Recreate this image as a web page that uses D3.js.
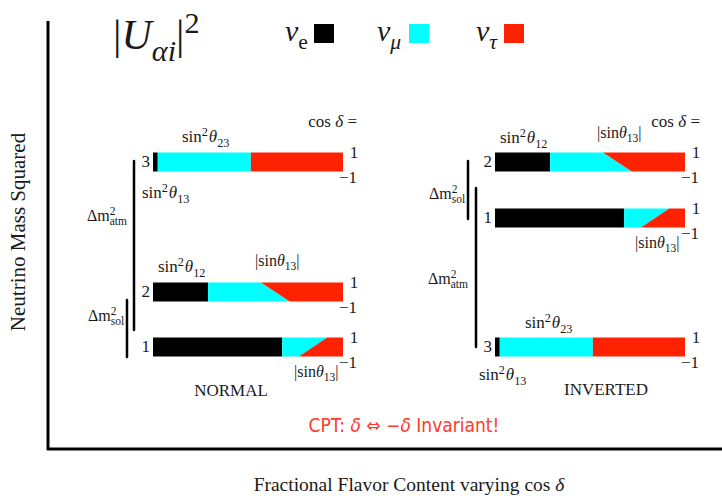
<!DOCTYPE html>
<html>
<head>
<meta charset="utf-8">
<title>Neutrino flavor content</title>
<style>
  body { margin: 0; background: #fff; }
  svg text, svg tspan { font-family: "Liberation Serif", "Times New Roman", serif; fill: #1a1a1a; }
</style>
</head>
<body>
<script src="https://cdn.jsdelivr.net/npm/d3@7"></script>
<script>
// mass states 1, 2, 3
var states = ["1", "2", "3"];
// |U_ei|^2 (black part)
var eShare = [0.68, 0.29, 0.025];
// e + mu share at cos delta = 1 and at cos delta = -1
var muEdgeTop = [0.917, 0.568, 0.515];
var muEdgeBottom = [0.768, 0.72, 0.515];
// schematic mass-squared level of each state
var levelNormal = [0, 0.297, 1];
var levelInverted = [0.697, 1, 0];
var orderings = ["NORMAL", "INVERTED"];
var flavors = ["e", "μ", "τ"];
var colors = ["#000000", "#00ffff", "#ff2200"];

var width = 722, height = 500;
var svg = d3.select("body").append("svg")
  .attr("width", width)
  .attr("height", height);

// draw text with sub / superscripts. parts: [text, kind, dx]
function mathText(x, y, parts, size, anchor, fill) {
  var t = svg.append("text")
    .attr("x", x).attr("y", y)
    .attr("font-size", size)
    .attr("text-anchor", anchor || "start");
  if (fill) t.style("fill", fill);
  var shift = 0;
  parts.forEach(function (p) {
    var kind = p[1] || "";
    var target = 0, fs = size;
    if (kind.indexOf("sup") >= 0) { target = -0.38 * size; fs = size * 0.72; }
    if (kind.indexOf("sub") >= 0) { target = 0.28 * size; fs = size * 0.72; }
    var s = t.append("tspan")
      .attr("dy", target - shift)
      .attr("font-size", fs)
      .text(p[0]);
    if (p[2]) s.attr("dx", p[2] * size);
    if (fill) s.style("fill", fill);
    if (kind.indexOf("i") === 0 || kind.indexOf("it") >= 0) s.attr("font-style", "italic");
    shift = target;
  });
  return t;
}

// frame
svg.append("line").attr("x1", 48).attr("x2", 48).attr("y1", 21).attr("y2", 450)
  .attr("stroke", "#000").attr("stroke-width", 3);
svg.append("line").attr("x1", 47).attr("x2", 722).attr("y1", 449).attr("y2", 449)
  .attr("stroke", "#000").attr("stroke-width", 3);

svg.append("text")
  .attr("transform", "translate(25,232) rotate(-90)")
  .attr("text-anchor", "middle")
  .attr("font-size", 21)
  .text("Neutrino Mass Squared");

mathText(409, 491, [["Fractional Flavor Content varying cos "], ["δ", "i"]], 19.5, "middle");

// title and legend
mathText(113, 49, [["|"], ["U", "i"], ["αi", "subit"], ["|"], ["2", "sup"]], 42);
var legX = [285, 377, 476];
flavors.forEach(function (f, i) {
  mathText(legX[i], 41, [["ν", "i"], [f, i === 0 ? "sub" : "subit"]], 30);
  svg.append("rect")
    .attr("x", [314, 409, 504][i]).attr("y", 24)
    .attr("width", 20).attr("height", 19)
    .attr("fill", colors[i]);
});

// scales
var y = d3.scaleLinear().domain([0, 1]).range([347, 162]);
var xN = d3.scaleLinear().domain([0, 1]).range([153, 343]);
var xI = d3.scaleLinear().domain([0, 1]).range([495, 685]);
var barH = 19;

function drawBars(x, levels) {
  states.forEach(function (s, i) {
    var top = y(levels[i]) - barH / 2, bot = top + barH;
    var line = d3.line();
    svg.append("path")
      .attr("d", line([[x(0), top], [x(eShare[i]), top], [x(eShare[i]), bot], [x(0), bot]]) + "Z")
      .attr("fill", colors[0]);
    svg.append("path")
      .attr("d", line([[x(eShare[i]), top], [x(muEdgeTop[i]), top], [x(muEdgeBottom[i]), bot], [x(eShare[i]), bot]]) + "Z")
      .attr("fill", colors[1]);
    svg.append("path")
      .attr("d", line([[x(muEdgeTop[i]), top], [x(1), top], [x(1), bot], [x(muEdgeBottom[i]), bot]]) + "Z")
      .attr("fill", colors[2]);
    svg.append("text").attr("x", x(0) - 3).attr("y", top + 14)
      .attr("text-anchor", "end").attr("font-size", 17).text(s);
    svg.append("text").attr("x", x(1) + 11).attr("y", top + 5)
      .attr("text-anchor", "middle").attr("font-size", 17).text("1");
    svg.append("text").attr("x", x(1) + 14).attr("y", bot + 11)
      .attr("text-anchor", "end").attr("font-size", 17).text("−1");
  });
}
drawBars(xN, levelNormal);
drawBars(xI, levelInverted);

// cos delta headers
mathText(357, 127, [["cos "], ["δ", "i"], [" ="]], 17, "end");
mathText(700, 127, [["cos "], ["δ", "i"], [" ="]], 17, "end");

var s12 = [["sin"], ["2", "sup"], ["θ", "i", 0.05], ["12", "sub"]];
var s23 = [["sin"], ["2", "sup"], ["θ", "i", 0.05], ["23", "sub"]];
var s13 = [["sin"], ["2", "sup"], ["θ", "i", 0.05], ["13", "sub"]];
var a13 = [["|sin"], ["θ", "i"], ["13", "sub"], ["|"]];

// normal ordering labels
mathText(182, 142, s23, 17);
mathText(142, 198, s13, 17);
mathText(158, 272, s12, 17);
mathText(255, 266, a13, 16);
mathText(294, 377, a13, 16);
svg.append("text").attr("x", 231).attr("y", 396).attr("text-anchor", "middle")
  .attr("font-size", 17).text(orderings[0]);

// inverted ordering labels
mathText(500, 143, s12, 17);
mathText(597, 138, a13, 16);
mathText(635, 248, a13, 16);
mathText(525, 328, s23, 17);
mathText(479, 380, s13, 17);
svg.append("text").attr("x", 606).attr("y", 395).attr("text-anchor", "middle")
  .attr("font-size", 17).text(orderings[1]);

// splitting brackets
function bracket(x, y1, y2) {
  svg.append("line").attr("x1", x).attr("x2", x).attr("y1", y1).attr("y2", y2)
    .attr("stroke", "#000").attr("stroke-width", 2.5).attr("stroke-linecap", "round");
}
bracket(134, 161, 330);
bracket(127, 300, 357);
bracket(468, 161, 219);
bracket(476, 188, 347);

var atm = [["Δm"], ["2", "sup"], ["atm", "sub", -0.36]];
var sol = [["Δm"], ["2", "sup"], ["sol", "sub", -0.36]];
mathText(87, 221, atm, 16);
mathText(88, 321, sol, 16);
mathText(429, 199, sol, 16);
mathText(428, 284, atm, 16);

// CPT note
mathText(404, 432, [["CPT: "], ["δ", "i"], [" ⇔ −"], ["δ", "i"], [" Invariant!"]], 19, "middle", "#ff3a2a")
  .selectAll("tspan").style("font-family", "'Liberation Sans Narrow', 'DejaVu Sans Condensed', 'Liberation Sans', sans-serif");
</script>
</body>
</html>
